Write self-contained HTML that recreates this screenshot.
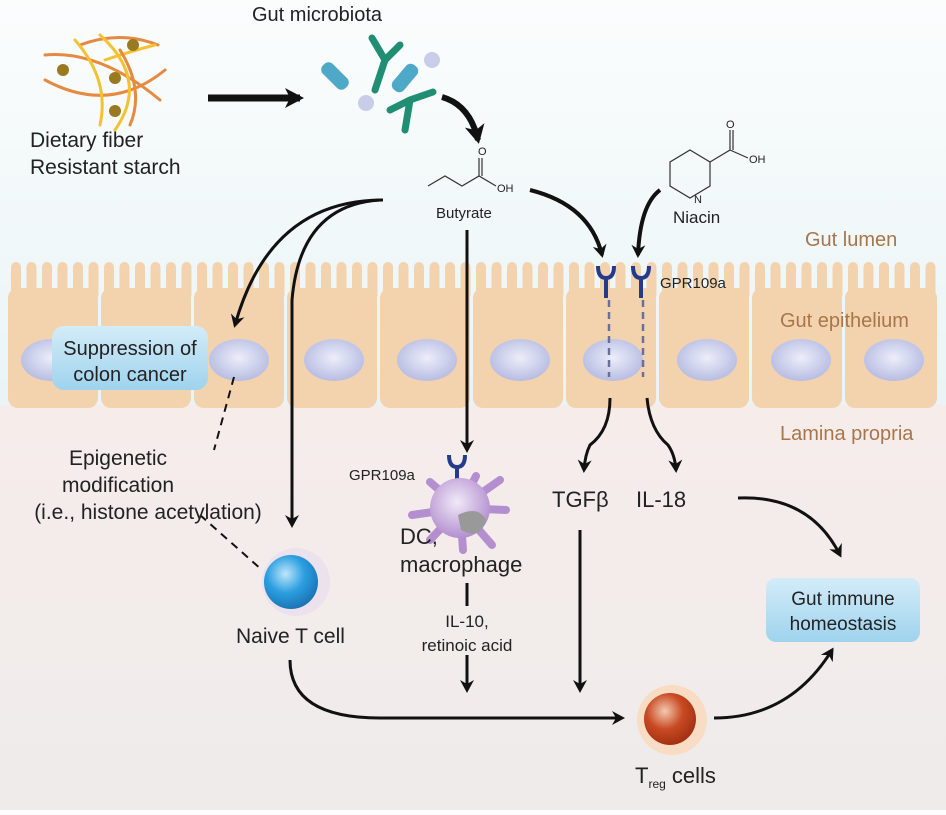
<!DOCTYPE html>
<html><head><meta charset="utf-8"><style>
body{margin:0;width:946px;height:810px;overflow:hidden;font-family:"Liberation Sans",sans-serif}
text{font-family:"Liberation Sans",sans-serif;fill:#222}
</style></head><body>
<svg width="946" height="810" viewBox="0 0 946 810" xmlns="http://www.w3.org/2000/svg">
<defs>
<linearGradient id="bg" x1="0" y1="0" x2="0" y2="1">
<stop offset="0" stop-color="#fbfdfd"/><stop offset="1" stop-color="#d8ebf0"/></linearGradient>
<linearGradient id="lp" x1="0" y1="0" x2="0" y2="1">
<stop offset="0" stop-color="#f6edeb"/><stop offset="1" stop-color="#efebeb"/></linearGradient>
<radialGradient id="nuc" cx="0.5" cy="0.45" r="0.6"><stop offset="0" stop-color="#eceef9"/><stop offset="1" stop-color="#b3b8e0"/></radialGradient>
<linearGradient id="box" x1="0" y1="0" x2="0" y2="1"><stop offset="0" stop-color="#d3ecf8"/><stop offset="1" stop-color="#9fd3ee"/></linearGradient>
<radialGradient id="tc" cx="0.4" cy="0.35" r="0.7"><stop offset="0" stop-color="#bfe6fb"/><stop offset="0.5" stop-color="#2b9fe0"/><stop offset="1" stop-color="#1a6fb0"/></radialGradient>
<radialGradient id="tr" cx="0.4" cy="0.35" r="0.7"><stop offset="0" stop-color="#f4c9b0"/><stop offset="0.5" stop-color="#c84a22"/><stop offset="1" stop-color="#9e2e10"/></radialGradient>
<radialGradient id="dc" cx="0.45" cy="0.4" r="0.6"><stop offset="0" stop-color="#f1e9f7"/><stop offset="1" stop-color="#b48fd0"/></radialGradient>
<pattern id="vil" x="8" y="262" width="15.5" height="40" patternUnits="userSpaceOnUse">
<rect x="3" y="0" width="10" height="40" rx="5" fill="#f2d3ae"/>
</pattern>
<marker id="ah" markerWidth="14" markerHeight="14" refX="10" refY="7" orient="auto" markerUnits="userSpaceOnUse"><path d="M0,0 L13,7 L0,14 L4,7z" fill="#111"/></marker>
<marker id="ahb" markerWidth="20" markerHeight="20" refX="15" refY="10" orient="auto" markerUnits="userSpaceOnUse"><path d="M0,0 L19,10 L0,20 L5,10z" fill="#111"/></marker>
</defs>
<rect width="946" height="810" fill="url(#bg)"/>
<rect y="405" width="946" height="405" fill="url(#lp)"/>
<!-- epithelium -->
<rect x="8" y="262" width="929" height="34" fill="url(#vil)"/>
<g fill="#f2d3ae">
<rect x="8" y="288" width="90" height="120" rx="10"/>
<rect x="101" y="288" width="90" height="120" rx="10"/>
<rect x="194" y="288" width="90" height="120" rx="10"/>
<rect x="287" y="288" width="90" height="120" rx="10"/>
<rect x="380" y="288" width="90" height="120" rx="10"/>
<rect x="473" y="288" width="90" height="120" rx="10"/>
<rect x="566" y="288" width="90" height="120" rx="10"/>
<rect x="659" y="288" width="90" height="120" rx="10"/>
<rect x="752" y="288" width="90" height="120" rx="10"/>
<rect x="845" y="288" width="92" height="120" rx="10"/>
</g>
<g fill="url(#nuc)">
<ellipse cx="51" cy="360" rx="30" ry="21"/><ellipse cx="239" cy="360" rx="30" ry="21"/><ellipse cx="334" cy="360" rx="30" ry="21"/><ellipse cx="427" cy="360" rx="30" ry="21"/><ellipse cx="520" cy="360" rx="30" ry="21"/><ellipse cx="613" cy="360" rx="30" ry="21"/><ellipse cx="707" cy="360" rx="30" ry="21"/><ellipse cx="801" cy="360" rx="30" ry="21"/><ellipse cx="894" cy="360" rx="30" ry="21"/>
</g>
<rect x="52" y="326" width="156" height="64" rx="12" fill="url(#box)"/>
<text x="130" y="355" font-size="20" text-anchor="middle">Suppression of</text>
<text x="130" y="381" font-size="20" text-anchor="middle">colon cancer</text>
<!-- labels -->
<text x="805" y="246" font-size="20" style="fill:#a8764a">Gut lumen</text>
<text x="780" y="327" font-size="20" style="fill:#a8764a">Gut epithelium</text>
<text x="780" y="440" font-size="20" style="fill:#a8764a">Lamina propria</text>
<text x="252" y="21" font-size="20">Gut microbiota</text>
<text x="30" y="147" font-size="21">Dietary fiber</text>
<text x="30" y="174" font-size="21">Resistant starch</text>
<!-- fiber -->
<g fill="none" stroke-width="3" stroke-linecap="round">
<path d="M45,55 Q100,50 160,100" stroke="#e58a40"/>
<path d="M45,80 Q110,115 165,70" stroke="#e58a40"/>
<path d="M80,45 Q120,30 158,45" stroke="#e58a40"/>
<path d="M100,35 Q150,80 115,130" stroke="#f3c233"/>
<path d="M75,40 Q110,80 100,125" stroke="#f3c233"/>
<path d="M105,60 Q135,50 155,45" stroke="#f3c233"/>
<path d="M120,50 Q145,90 130,125" stroke="#e58a40"/>
</g>
<g fill="#9a7a20"><circle cx="63" cy="70" r="6"/><circle cx="133" cy="45" r="6"/><circle cx="115" cy="78" r="6"/><circle cx="115" cy="111" r="6"/></g>
<!-- microbiota -->
<g>
<rect x="328" y="60" width="14" height="32" rx="6" fill="#4ea8c8" transform="rotate(-45 335 76)"/>
<rect x="398" y="62" width="14" height="32" rx="6" fill="#4ea8c8" transform="rotate(40 405 78)"/>
<circle cx="432" cy="60" r="8" fill="#c8cde8"/><circle cx="366" cy="103" r="8" fill="#c8cde8"/>
<path d="M375,90 L385,60 L372,38 M385,60 L400,45" stroke="#1f8e72" stroke-width="7" fill="none" stroke-linecap="round"/>
<path d="M390,110 L410,100 L433,92 M410,100 L405,130" stroke="#1f8e72" stroke-width="7" fill="none" stroke-linecap="round"/>
</g>
<line x1="208" y1="98" x2="300" y2="98" stroke="#111" stroke-width="7" marker-end="url(#ahb)"/>
<path d="M442,97 Q470,105 478,140" fill="none" stroke="#111" stroke-width="6" marker-end="url(#ahb)"/>
<!-- butyrate -->
<path d="M428,186 L445,176 L462,186 L479,176 L496,186" fill="none" stroke="#333" stroke-width="1.2"/>
<line x1="479" y1="176" x2="479" y2="158" stroke="#333" stroke-width="1.2"/><line x1="482" y1="176" x2="482" y2="158" stroke="#333" stroke-width="1.2"/>
<text x="478" y="155" font-size="11">O</text><text x="497" y="192" font-size="11">OH</text>
<text x="436" y="218" font-size="15">Butyrate</text>
<!-- niacin -->
<g fill="none" stroke="#333" stroke-width="1.2">
<path d="M690,150 L710,162 L710,186 L690,198 L670,186 L670,162Z"/>
<path d="M710,162 L730,150 L730,130 M733,150 L733,130 M730,150 L748,158"/>
</g>
<text x="694" y="203" font-size="11">N</text><text x="726" y="128" font-size="11">O</text><text x="749" y="163" font-size="11">OH</text>
<text x="673" y="223" font-size="17">Niacin</text>
<!-- receptors -->
<g stroke="#233b8a" stroke-width="4" fill="none">
<path d="M598,266 q0,12 8,12 q8,0 8,-12 M606,278 v20"/>
<path d="M633,266 q0,12 8,12 q8,0 8,-12 M641,278 v20"/>
<path d="M449,455 q0,12 8,12 q8,0 8,-12 M457,467 v16"/>
</g>
<text x="660" y="288" font-size="15">GPR109a</text>
<g stroke="#6a6f9a" stroke-width="2.5" stroke-dasharray="7,5"><line x1="609" y1="300" x2="609" y2="377"/><line x1="643" y1="300" x2="643" y2="377"/></g>
<!-- arrows -->
<g fill="none" stroke="#111" stroke-width="3">
<path d="M530,190 Q590,205 602,255" stroke-width="4" marker-end="url(#ah)"/>
<path d="M660,190 Q640,205 638,255" stroke-width="4" marker-end="url(#ah)"/>
<path d="M383,200 Q270,200 235,325" marker-end="url(#ah)"/>
<path d="M380,200 Q300,205 292,300 L292,525" marker-end="url(#ah)"/>
<line x1="467" y1="230" x2="467" y2="450" marker-end="url(#ah)"/>
<path d="M610,398 Q610,430 590,445 Q585,455 584,470" marker-end="url(#ah)"/>
<path d="M647,398 Q650,430 668,445 Q675,455 676,470" marker-end="url(#ah)"/>
<line x1="580" y1="530" x2="580" y2="690" marker-end="url(#ah)"/>
<line x1="467" y1="583" x2="467" y2="606"/>
<line x1="467" y1="655" x2="467" y2="690" marker-end="url(#ah)"/>
<path d="M290,660 Q290,718 380,718 L622,718" marker-end="url(#ah)"/>
<path d="M714,718 Q790,718 832,650" marker-end="url(#ah)"/>
<path d="M738,498 Q810,495 840,555" marker-end="url(#ah)"/>
</g>
<g stroke="#111" stroke-width="2" stroke-dasharray="8,6"><line x1="234" y1="377" x2="214" y2="450"/><line x1="200" y1="515" x2="262" y2="570"/></g>
<text x="118" y="465" font-size="21" text-anchor="middle">Epigenetic</text>
<text x="118" y="492" font-size="21" text-anchor="middle">modification</text>
<text x="148" y="519" font-size="21" text-anchor="middle">(i.e., histone acetylation)</text>
<text x="349" y="480" font-size="15">GPR109a</text>
<!-- DC -->
<g stroke="#b48fd0" stroke-width="8" stroke-linecap="round">
<line x1="460" y1="508" x2="500" y2="480"/><line x1="460" y1="508" x2="506" y2="510"/><line x1="460" y1="508" x2="492" y2="545"/><line x1="460" y1="508" x2="463" y2="550"/><line x1="460" y1="508" x2="430" y2="540"/><line x1="460" y1="508" x2="412" y2="515"/><line x1="460" y1="508" x2="430" y2="482"/><line x1="460" y1="508" x2="476" y2="476"/>
</g>
<circle cx="460" cy="508" r="30" fill="url(#dc)"/>
<path d="M458,515 q20,-10 28,5 q-5,20 -25,10z" fill="#999"/>
<text x="400" y="544" font-size="22">DC,</text>
<text x="400" y="572" font-size="22">macrophage</text>
<text x="467" y="627" font-size="17" text-anchor="middle">IL-10,</text>
<text x="467" y="651" font-size="17" text-anchor="middle">retinoic acid</text>
<text x="552" y="507" font-size="22">TGFβ</text>
<text x="636" y="507" font-size="22">IL-18</text>
<!-- T cell -->
<circle cx="296" cy="582" r="34" fill="#ece2ee"/>
<circle cx="291" cy="582" r="27" fill="url(#tc)"/>
<text x="236" y="643" font-size="21">Naive T cell</text>
<circle cx="672" cy="720" r="35" fill="#f8ddc4"/>
<circle cx="670" cy="719" r="26" fill="url(#tr)"/>
<text x="635" y="783" font-size="22">T<tspan font-size="12" dy="5">reg</tspan><tspan dy="-5"> cells</tspan></text>
<rect x="766" y="578" width="154" height="64" rx="10" fill="url(#box)"/>
<text x="843" y="605" font-size="19" text-anchor="middle">Gut immune</text>
<text x="843" y="630" font-size="19" text-anchor="middle">homeostasis</text>
</svg>
</body></html>
